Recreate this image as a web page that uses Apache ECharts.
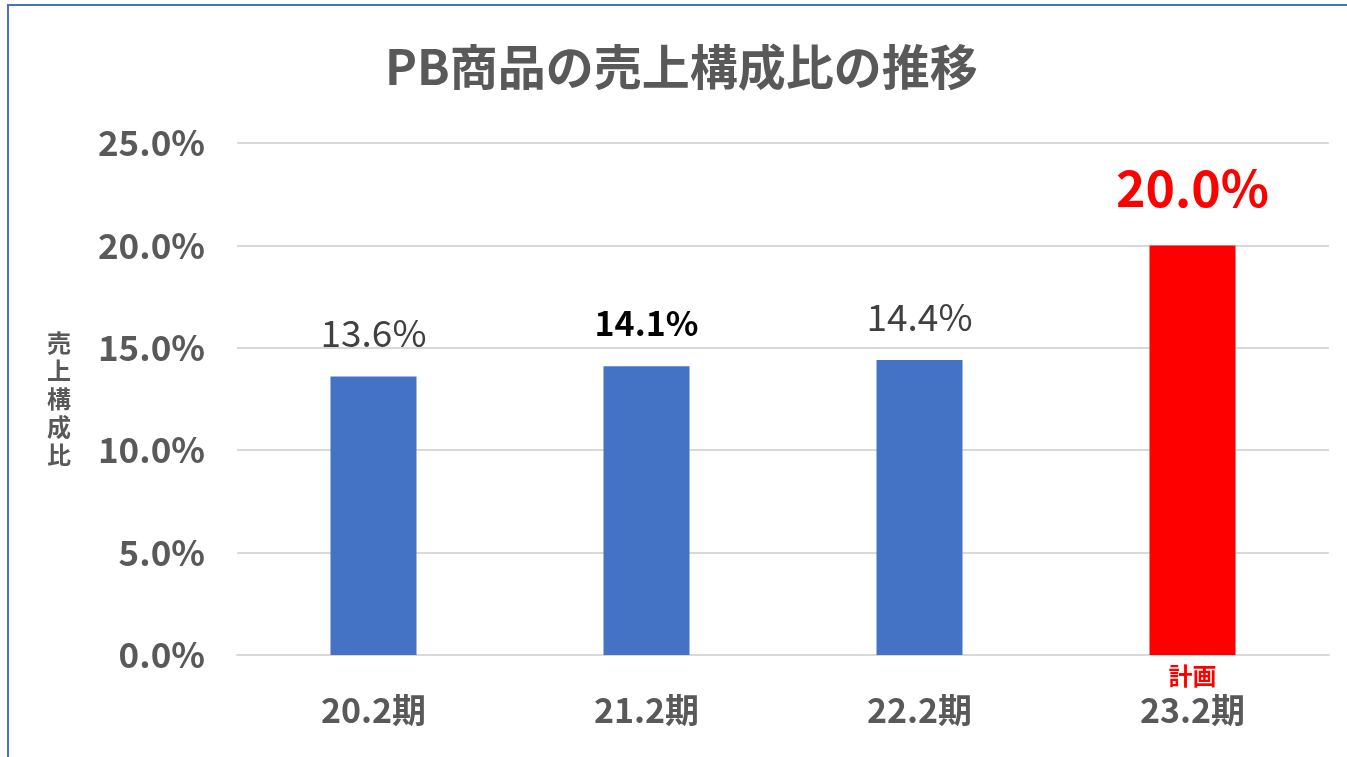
<!DOCTYPE html>
<html>
<head>
<meta charset="utf-8">
<title>PB商品の売上構成比の推移</title>
<script src="https://cdn.jsdelivr.net/npm/echarts@6/dist/echarts.min.js"></script>
<style>
  html, body { margin: 0; padding: 0; background: #fff; }
  #main { width: 1347px; height: 757px; }
</style>
</head>
<body>
<div id="main"></div>
<script>
// data
const categories = ['20.2期', '21.2期', '22.2期', '23.2期']
const ratios = [13.6, 14.1, 14.4, 20.0]
const notes = ['', '', '', '計画']
const yTicks = { min: 0, max: 25, interval: 5 }

const font = '"Noto Sans CJK JP", "Noto Sans", sans-serif'
const blue = '#4472C4'
const red = '#FF0000'
const planIdx = notes.indexOf('計画')

const chart = echarts.init(document.getElementById('main'))

chart.setOption({
  animation: false,
  textStyle: { fontFamily: font },
  title: {
    text: 'PB商品の売上構成比の推移',
    left: 380,
    top: 38,
    textStyle: { fontSize: 48, fontWeight: 'bold', color: '#595959' }
  },
  graphic: [
    {
      // outer frame (top and left edges visible)
      type: 'rect',
      shape: { x: 8, y: 5, width: 1400, height: 800 },
      style: { fill: 'none', stroke: blue, lineWidth: 2 }
    }
  ],
  grid: { left: 237, right: 18, top: 143, bottom: 102 },
  xAxis: {
    type: 'category',
    data: categories,
    axisTick: { show: false },
    axisLine: { lineStyle: { color: '#D9D9D9', width: 2 } },
    axisLabel: {
      margin: 8,
      formatter: (val, i) => '{n|' + (notes[i] || ' ') + '}\n{c|' + val + '}',
      rich: {
        n: { fontSize: 24, fontWeight: 'bold', color: red, height: 26, lineHeight: 26 },
        c: { fontSize: 34, fontWeight: 'bold', color: '#595959', lineHeight: 42 }
      }
    }
  },
  yAxis: {
    type: 'value',
    min: yTicks.min,
    max: yTicks.max,
    interval: yTicks.interval,
    name: '売\n上\n構\n成\n比',
    nameLocation: 'middle',
    nameRotate: 0,
    nameGap: 166,
    nameTextStyle: { fontSize: 24, fontWeight: 'bold', color: '#595959', lineHeight: 28, padding: [18, 0, 0, 0] },
    axisLine: { show: false },
    axisTick: { show: false },
    axisLabel: {
      margin: 32,
      fontSize: 35,
      fontWeight: 'bold',
      color: '#595959',
      formatter: v => v.toFixed(1) + '%'
    },
    splitLine: { lineStyle: { color: '#D9D9D9', width: 2 } }
  },
  series: [
    {
      type: 'bar',
      barWidth: 86,
      data: ratios.map((v, i) => ({
        value: v,
        itemStyle: { color: i === planIdx ? red : blue },
        label: i === planIdx
          ? { fontSize: 50, fontWeight: 'bold', color: red, distance: 32 }
          : i === 1
            ? { fontSize: 34, fontWeight: 'bold', color: '#000', distance: 26 }
            : { fontSize: 37, fontWeight: 'normal', color: '#404040', distance: 25 }
      })),
      label: {
        show: true,
        position: 'top',
        formatter: p => p.value.toFixed(1) + '%'
      }
    }
  ]
})
</script>
</body>
</html>
